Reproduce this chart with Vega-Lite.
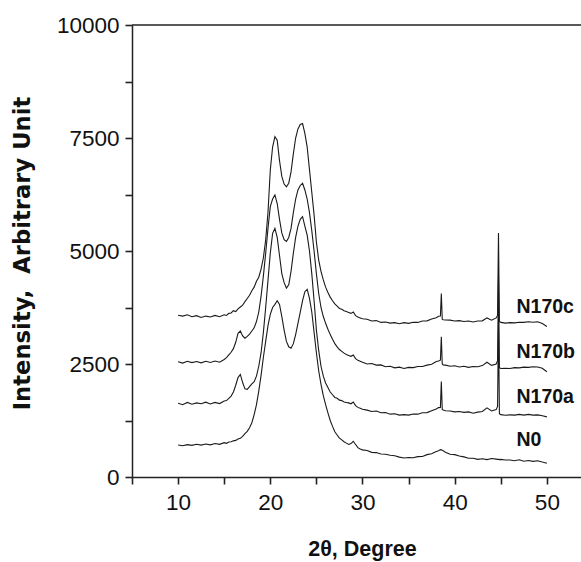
{
  "$schema": "https://vega.github.io/schema/vega-lite/v6.json",
  "autosize": "none",
  "width": 449,
  "height": 452,
  "padding": {"left": 132, "top": 25, "right": 0, "bottom": 85},
  "background": "white",
  "config": {
    "view": {"stroke": null},
    "axis": {
      "grid": false,
      "ticks": true,
      "domainColor": "#222",
      "domainWidth": 1.5,
      "tickColor": "#222",
      "tickWidth": 1.6,
      "tickSize": 7,
      "labelColor": "#111",
      "labelFont": "Liberation Sans, Arial, sans-serif",
      "labelFontSize": 22.5,
      "titleColor": "#111",
      "titleFontWeight": "bold"
    }
  },
  "datasets": {
    "xrd": [
      {"x": 10, "N0": 708, "N170a": 1630, "N170b": 2550, "N170c": 3580},
      {"x": 10.5, "N0": 690, "N170a": 1600, "N170b": 2520, "N170c": 3560},
      {"x": 11, "N0": 715, "N170a": 1650, "N170b": 2560, "N170c": 3590},
      {"x": 11.5, "N0": 700, "N170a": 1610, "N170b": 2530, "N170c": 3545},
      {"x": 12, "N0": 725, "N170a": 1640, "N170b": 2555, "N170c": 3570},
      {"x": 12.5, "N0": 705, "N170a": 1620, "N170b": 2525, "N170c": 3530},
      {"x": 13, "N0": 730, "N170a": 1655, "N170b": 2560, "N170c": 3560},
      {"x": 13.5, "N0": 712, "N170a": 1615, "N170b": 2535, "N170c": 3540},
      {"x": 14, "N0": 740, "N170a": 1650, "N170b": 2565, "N170c": 3575},
      {"x": 14.5, "N0": 722, "N170a": 1625, "N170b": 2540, "N170c": 3545},
      {"x": 15, "N0": 760, "N170a": 1680, "N170b": 2600, "N170c": 3590},
      {"x": 15.25, "N0": 745, "N170a": 1690, "N170b": 2640, "N170c": 3575},
      {"x": 15.5, "N0": 775, "N170a": 1740, "N170b": 2700, "N170c": 3620},
      {"x": 15.75, "N0": 780, "N170a": 1790, "N170b": 2760, "N170c": 3630},
      {"x": 16, "N0": 800, "N170a": 1880, "N170b": 2840, "N170c": 3680},
      {"x": 16.25, "N0": 810, "N170a": 2030, "N170b": 2980, "N170c": 3660},
      {"x": 16.5, "N0": 840, "N170a": 2200, "N170b": 3180, "N170c": 3720},
      {"x": 16.75, "N0": 855, "N170a": 2270, "N170b": 3230, "N170c": 3760},
      {"x": 17, "N0": 900, "N170a": 2090, "N170b": 3120, "N170c": 3800},
      {"x": 17.25, "N0": 960, "N170a": 1950, "N170b": 3070, "N170c": 3880},
      {"x": 17.5, "N0": 1010, "N170a": 1940, "N170b": 3110, "N170c": 3950},
      {"x": 17.75, "N0": 1090, "N170a": 2000, "N170b": 3160, "N170c": 4020},
      {"x": 18, "N0": 1200, "N170a": 2060, "N170b": 3230, "N170c": 4120},
      {"x": 18.25, "N0": 1380, "N170a": 2110, "N170b": 3300, "N170c": 4200},
      {"x": 18.5, "N0": 1600, "N170a": 2230, "N170b": 3440, "N170c": 4330},
      {"x": 18.75, "N0": 1900, "N170a": 2450, "N170b": 3650, "N170c": 4420},
      {"x": 19, "N0": 2250, "N170a": 2750, "N170b": 4000, "N170c": 4600},
      {"x": 19.25, "N0": 2650, "N170a": 3200, "N170b": 4450, "N170c": 4850},
      {"x": 19.5, "N0": 3000, "N170a": 3750, "N170b": 4950, "N170c": 5250},
      {"x": 19.75, "N0": 3350, "N170a": 4350, "N170b": 5500, "N170c": 5850},
      {"x": 20, "N0": 3600, "N170a": 4950, "N170b": 5980, "N170c": 6790},
      {"x": 20.25, "N0": 3750, "N170a": 5390, "N170b": 6150, "N170c": 7300},
      {"x": 20.5, "N0": 3820, "N170a": 5500, "N170b": 6240, "N170c": 7530},
      {"x": 20.75, "N0": 3900, "N170a": 5300, "N170b": 6050, "N170c": 7450},
      {"x": 21, "N0": 3820, "N170a": 4900, "N170b": 5700, "N170c": 7000},
      {"x": 21.25, "N0": 3550, "N170a": 4500, "N170b": 5400, "N170c": 6650},
      {"x": 21.5, "N0": 3250, "N170a": 4300, "N170b": 5250, "N170c": 6480},
      {"x": 21.75, "N0": 3000, "N170a": 4180, "N170b": 5210, "N170c": 6420},
      {"x": 22, "N0": 2880, "N170a": 4250, "N170b": 5300, "N170c": 6500},
      {"x": 22.25, "N0": 2850, "N170a": 4550, "N170b": 5500, "N170c": 6750},
      {"x": 22.5, "N0": 2950, "N170a": 4950, "N170b": 5850, "N170c": 7150},
      {"x": 22.75, "N0": 3150, "N170a": 5300, "N170b": 6150, "N170c": 7500},
      {"x": 23, "N0": 3400, "N170a": 5550, "N170b": 6350, "N170c": 7700},
      {"x": 23.25, "N0": 3650, "N170a": 5700, "N170b": 6450, "N170c": 7800},
      {"x": 23.5, "N0": 3900, "N170a": 5760, "N170b": 6500, "N170c": 7820},
      {"x": 23.75, "N0": 4100, "N170a": 5550, "N170b": 6350, "N170c": 7600},
      {"x": 24, "N0": 4150, "N170a": 5350, "N170b": 6150, "N170c": 7300},
      {"x": 24.25, "N0": 3950, "N170a": 5000, "N170b": 5850, "N170c": 6800},
      {"x": 24.5, "N0": 3650, "N170a": 4500, "N170b": 5450, "N170c": 6300},
      {"x": 24.75, "N0": 3200, "N170a": 3900, "N170b": 5000, "N170c": 5800},
      {"x": 25, "N0": 2750, "N170a": 3250, "N170b": 4500, "N170c": 5200},
      {"x": 25.25, "N0": 2350, "N170a": 2800, "N170b": 4060, "N170c": 4800},
      {"x": 25.5, "N0": 2050, "N170a": 2450, "N170b": 3750, "N170c": 4550},
      {"x": 25.75, "N0": 1800, "N170a": 2230, "N170b": 3550, "N170c": 4360},
      {"x": 26, "N0": 1600, "N170a": 2080, "N170b": 3400, "N170c": 4200},
      {"x": 26.25, "N0": 1420, "N170a": 1980, "N170b": 3270, "N170c": 4080},
      {"x": 26.5, "N0": 1250, "N170a": 1880, "N170b": 3150, "N170c": 3980},
      {"x": 26.75, "N0": 1120, "N170a": 1820, "N170b": 3050, "N170c": 3900},
      {"x": 27, "N0": 1000, "N170a": 1760, "N170b": 2950, "N170c": 3830},
      {"x": 27.25, "N0": 930, "N170a": 1740, "N170b": 2880, "N170c": 3780},
      {"x": 27.5, "N0": 860, "N170a": 1700, "N170b": 2820, "N170c": 3730},
      {"x": 27.75, "N0": 820, "N170a": 1690, "N170b": 2780, "N170c": 3710},
      {"x": 28, "N0": 780, "N170a": 1660, "N170b": 2740, "N170c": 3680},
      {"x": 28.25, "N0": 750, "N170a": 1650, "N170b": 2710, "N170c": 3660},
      {"x": 28.5, "N0": 720, "N170a": 1640, "N170b": 2690, "N170c": 3640},
      {"x": 28.75, "N0": 740, "N170a": 1620, "N170b": 2670, "N170c": 3620},
      {"x": 29, "N0": 790, "N170a": 1660, "N170b": 2700, "N170c": 3650},
      {"x": 29.25, "N0": 720, "N170a": 1580, "N170b": 2620, "N170c": 3570},
      {"x": 29.5, "N0": 650, "N170a": 1540, "N170b": 2580, "N170c": 3540},
      {"x": 29.75, "N0": 620, "N170a": 1520, "N170b": 2560, "N170c": 3520},
      {"x": 30, "N0": 600, "N170a": 1500, "N170b": 2540, "N170c": 3500},
      {"x": 30.5, "N0": 585, "N170a": 1480, "N170b": 2500, "N170c": 3490},
      {"x": 31, "N0": 545, "N170a": 1450, "N170b": 2510, "N170c": 3450},
      {"x": 31.5, "N0": 540, "N170a": 1460, "N170b": 2475, "N170c": 3460},
      {"x": 32, "N0": 510, "N170a": 1420, "N170b": 2480, "N170c": 3420},
      {"x": 32.5, "N0": 505, "N170a": 1425, "N170b": 2440, "N170c": 3430},
      {"x": 33, "N0": 480, "N170a": 1390, "N170b": 2450, "N170c": 3405},
      {"x": 33.5, "N0": 470, "N170a": 1400, "N170b": 2415, "N170c": 3415},
      {"x": 34, "N0": 440, "N170a": 1370, "N170b": 2430, "N170c": 3390},
      {"x": 34.5, "N0": 420, "N170a": 1380, "N170b": 2400, "N170c": 3415},
      {"x": 35, "N0": 430, "N170a": 1370, "N170b": 2425, "N170c": 3400},
      {"x": 35.5, "N0": 425, "N170a": 1395, "N170b": 2420, "N170c": 3425},
      {"x": 36, "N0": 450, "N170a": 1390, "N170b": 2445, "N170c": 3420},
      {"x": 36.5, "N0": 455, "N170a": 1420, "N170b": 2445, "N170c": 3450},
      {"x": 37, "N0": 495, "N170a": 1425, "N170b": 2475, "N170c": 3455},
      {"x": 37.5, "N0": 515, "N170a": 1465, "N170b": 2495, "N170c": 3495},
      {"x": 38, "N0": 565, "N170a": 1505, "N170b": 2555, "N170c": 3525},
      {"x": 38.25, "N0": 580, "N170a": 1535, "N170b": 2565, "N170c": 3555},
      {"x": 38.45, "N0": 605, "N170a": 1540, "N170b": 2585, "N170c": 3560},
      {"x": 38.55, "N0": 600, "N170a": 2110, "N170b": 3100, "N170c": 4060},
      {"x": 38.65, "N0": 590, "N170a": 1500, "N170b": 2500, "N170c": 3490},
      {"x": 38.75, "N0": 580, "N170a": 1480, "N170b": 2480, "N170c": 3480},
      {"x": 39, "N0": 550, "N170a": 1465, "N170b": 2475, "N170c": 3475},
      {"x": 39.5, "N0": 505, "N170a": 1460, "N170b": 2450, "N170c": 3470},
      {"x": 40, "N0": 495, "N170a": 1440, "N170b": 2460, "N170c": 3450},
      {"x": 40.5, "N0": 465, "N170a": 1450, "N170b": 2435, "N170c": 3460},
      {"x": 41, "N0": 445, "N170a": 1430, "N170b": 2450, "N170c": 3440},
      {"x": 41.5, "N0": 415, "N170a": 1440, "N170b": 2425, "N170c": 3450},
      {"x": 42, "N0": 415, "N170a": 1410, "N170b": 2445, "N170c": 3430},
      {"x": 42.5, "N0": 390, "N170a": 1435, "N170b": 2440, "N170c": 3450},
      {"x": 43, "N0": 405, "N170a": 1450, "N170b": 2465, "N170c": 3455},
      {"x": 43.5, "N0": 385, "N170a": 1530, "N170b": 2540, "N170c": 3520},
      {"x": 44, "N0": 410, "N170a": 1460, "N170b": 2470, "N170c": 3470},
      {"x": 44.5, "N0": 395, "N170a": 1490, "N170b": 2500, "N170c": 3520},
      {"x": 44.65, "N0": 390, "N170a": 1560, "N170b": 2570, "N170c": 3580},
      {"x": 44.75, "N0": 390, "N170a": 3450, "N170b": 4400, "N170c": 5400},
      {"x": 44.85, "N0": 385, "N170a": 1400, "N170b": 2420, "N170c": 3440},
      {"x": 45, "N0": 390, "N170a": 1380, "N170b": 2400, "N170c": 3420},
      {"x": 45.5, "N0": 375, "N170a": 1365, "N170b": 2405, "N170c": 3405},
      {"x": 46, "N0": 375, "N170a": 1375, "N170b": 2400, "N170c": 3415},
      {"x": 46.5, "N0": 360, "N170a": 1370, "N170b": 2420, "N170c": 3410},
      {"x": 47, "N0": 380, "N170a": 1385, "N170b": 2415, "N170c": 3425},
      {"x": 47.5, "N0": 350, "N170a": 1370, "N170b": 2430, "N170c": 3420},
      {"x": 48, "N0": 365, "N170a": 1385, "N170b": 2425, "N170c": 3435},
      {"x": 48.5, "N0": 345, "N170a": 1370, "N170b": 2440, "N170c": 3425},
      {"x": 49, "N0": 360, "N170a": 1375, "N170b": 2435, "N170c": 3435},
      {"x": 49.5, "N0": 330, "N170a": 1355, "N170b": 2405, "N170c": 3395},
      {"x": 50, "N0": 303, "N170a": 1330, "N170b": 2330, "N170c": 3330}
    ],
    "labels": [
      {"label": "N170c", "x": 46.7, "y": 3760},
      {"label": "N170b", "x": 46.7, "y": 2765},
      {"label": "N170a", "x": 46.7, "y": 1770},
      {"label": "N0", "x": 46.7, "y": 818}
    ]
  },
  "layer": [
    {
      "data": {"values": [{"v": 10000}]},
      "mark": {"type": "rule", "color": "#222", "strokeWidth": 1.5},
      "encoding": {"y": {"field": "v", "type": "quantitative", "scale": {"domain": [0, 10000]}}}
    },
    {
      "data": {"name": "xrd"},
      "transform": [{"fold": ["N0", "N170a", "N170b", "N170c"], "as": ["series", "value"]}],
      "mark": {"type": "line", "color": "#1a1a1a", "strokeWidth": 1.1, "clip": true},
      "encoding": {
        "x": {
          "field": "x", "type": "quantitative",
          "scale": {"domain": [5, 53.7], "nice": false, "zero": false},
          "axis": {
            "title": "2θ, Degree",
            "titleFont": "Liberation Sans, Arial, sans-serif",
            "titleFontSize": 21.5,
            "titleX": 230,
            "titleY": 78,
            "titleBaseline": "alphabetic",
            "values": [5, 10, 15, 20, 25, 30, 35, 40, 45, 50],
            "labelExpr": "datum.value % 10 === 0 ? datum.label : ''",
            "labelPadding": 7,
            "labelFlush": false
          }
        },
        "y": {
          "field": "value", "type": "quantitative",
          "scale": {"domain": [0, 10000], "nice": false},
          "axis": {
            "title": "Intensity, \u00a0Arbitrary Unit",
            "titleFont": "DejaVu Sans, sans-serif",
            "titleFontSize": 22.7,
            "titleX": -98,
            "titleY": 228,
            "values": [0, 1250, 2500, 3750, 5000, 6250, 7500, 8750, 10000],
            "labelExpr": "datum.value % 2500 === 0 ? format(datum.value, 'd') : ''",
            "labelPadding": 6,
            "labelFlush": false
          }
        },
        "detail": {"field": "series"}
      }
    },
    {
      "data": {"name": "labels"},
      "mark": {"type": "text", "align": "left", "baseline": "middle", "font": "Liberation Sans, Arial, sans-serif", "fontSize": 19.5, "fontWeight": "bold", "color": "#111"},
      "encoding": {
        "x": {"field": "x", "type": "quantitative"},
        "y": {"field": "y", "type": "quantitative"},
        "text": {"field": "label"}
      }
    }
  ]
}
